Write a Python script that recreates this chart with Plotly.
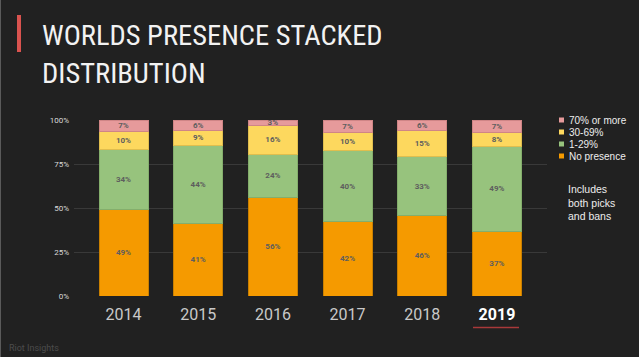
import plotly.graph_objects as go

# ---- data ----
years = ["2014", "2015", "2016", "2017", "2018", "2019"]
tick_labels = ["2014", "2015", "2016", "2017", "2018",
               "<span style='color:#FFFFFF'><b>2019</b></span>"]
series_names = ["No presence", "1-29%", "30-69%", "70% or more"]
no_presence = [48.9, 41.1, 56.1, 42.2, 45.8, 36.6]
p1_29 = [34.2, 44.4, 24.4, 40.4, 33.4, 48.6]
p30_69 = [10.1, 8.6, 16.3, 10.4, 15.0, 7.7]
p70_plus = [6.8, 5.9, 3.2, 7.0, 5.8, 7.1]
series_values = [no_presence, p1_29, p30_69, p70_plus]
y_ticks = [0, 25, 50, 75, 100]
y_tick_labels = ["0%", "25%", "50%", "75%", "100%"]

colors = ["#F59A00", "#97C37D", "#FDD85E", "#E69A9B"]
edge_colors = ["#C97F00", "#84AE6C", "#E0BE4E", "#CF8586"]

W, H = 639, 357
L, R, T, B = 74, 547, 120, 296


def px(x):
    return (x - L) / (R - L)


def py(y):
    return (B - y) / (B - T)


fig = go.Figure()
for name, vals, c, ec in zip(series_names, series_values, colors, edge_colors):
    fig.add_trace(go.Bar(
        x=years, y=vals, name=name,
        marker=dict(color=c, line=dict(color=ec, width=1)),
        texttemplate="%{y:.0f}%",
        textposition="inside", insidetextanchor="middle",
        constraintext="none",
        textfont=dict(family="Roboto", size=8, color="#5E5E5E", weight="bold"),
        showlegend=False,
        hoverinfo="skip",
    ))

annotations = []
shapes = []

TITLE_FONT = dict(family="Roboto Condensed, Open Sans Condensed", size=28.5, color="#F2F2F2")
annotations.append(dict(text="WORLDS PRESENCE STACKED", xref="paper", yref="paper",
                        x=px(40), y=py(35), xanchor="left", yanchor="middle",
                        showarrow=False, font=TITLE_FONT))
annotations.append(dict(text="DISTRIBUTION", xref="paper", yref="paper",
                        x=px(40), y=py(73), xanchor="left", yanchor="middle",
                        showarrow=False, font=TITLE_FONT))
shapes.append(dict(type="rect", xref="paper", yref="paper",
                   x0=px(17), x1=px(21), y0=py(15), y1=py(52),
                   fillcolor="#D9534F", line=dict(width=0)))

# custom legend (top item = last series)
for i, (name, c) in enumerate(zip(reversed(series_names), reversed(colors))):
    yc = 120 + 12 * i
    shapes.append(dict(type="rect", xref="paper", yref="paper",
                       x0=px(559), x1=px(564), y0=py(yc - 2.5), y1=py(yc + 2.5),
                       fillcolor=c, line=dict(width=0)))
    annotations.append(dict(text=name, xref="paper", yref="paper",
                            x=px(567), y=py(yc), xanchor="left", yanchor="middle",
                            showarrow=False,
                            font=dict(family="Liberation Sans, Arial", size=10, color="#EDEDED")))

annotations.append(dict(text="Includes<br>both picks<br>and bans", xref="paper", yref="paper",
                        x=px(566), y=py(202), xanchor="left", yanchor="middle", align="left",
                        showarrow=False,
                        font=dict(family="Liberation Sans, Arial", size=10.5, color="#EDEDED")))

annotations.append(dict(text="Riot Insights", xref="paper", yref="paper",
                        x=px(7), y=py(348), xanchor="left", yanchor="middle",
                        showarrow=False,
                        font=dict(family="Roboto", size=9, color="#4C4C4C")))

shapes.append(dict(type="line", xref="paper", yref="paper",
                   x0=px(473), x1=px(519), y0=py(327.5), y1=py(327.5),
                   line=dict(color="#A8393A", width=1.5)))

shapes.append(dict(type="line", xref="paper", yref="paper",
                   x0=px(0.5), x1=px(0.5), y0=py(0), y1=py(H),
                   line=dict(color="#5A5A5A", width=1)))

fig.update_layout(
    width=W, height=H,
    margin=dict(l=L, r=W - R, t=T, b=H - B, pad=0),
    paper_bgcolor="#212121", plot_bgcolor="#212121",
    barmode="stack", bargap=0.344,
    annotations=annotations, shapes=shapes,
    xaxis=dict(type="category", range=[-0.663, 5.67],
               tickvals=years, ticktext=tick_labels,
               tickfont=dict(family="Roboto", size=16, color="#C9C9C9"),
               showgrid=False, zeroline=False, showline=False, ticks="",
               ticklabelstandoff=7),
    yaxis=dict(range=[0, 100], tickvals=y_ticks, ticktext=y_tick_labels,
               tickfont=dict(family="Roboto", size=8, color="#DADADA"),
               showgrid=True, gridcolor="#393939", gridwidth=1,
               zeroline=False, showline=False, ticks="", ticklabelstandoff=4),
)

fig.write_html("out.html", config={"displayModeBar": False},
               post_script="document.body.style.margin='0';document.body.style.overflow='hidden';")
